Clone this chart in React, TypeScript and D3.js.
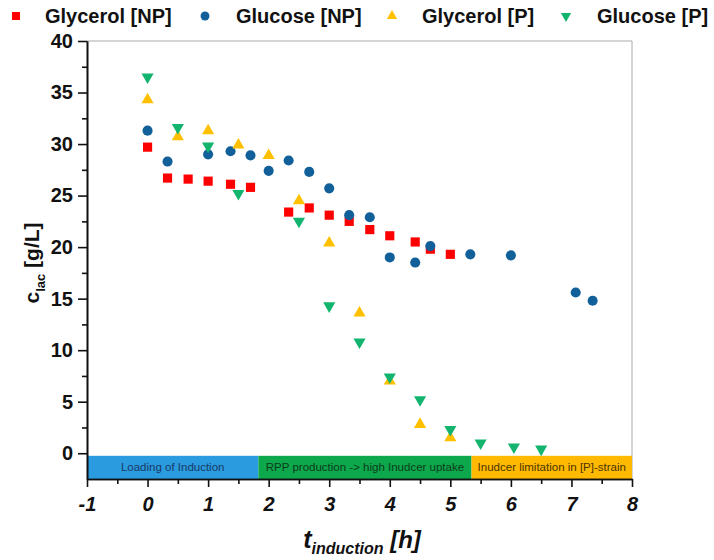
import { useRef, useEffect } from 'react';
import * as d3 from 'd3';

// Glycerol [NP]
const glyNpX = [0, 0.33, 0.67, 1.0, 1.37, 1.7, 2.33, 2.67, 3.0, 3.33, 3.67, 4.0, 4.42, 4.67, 5.0];
const glyNpY = [29.7, 26.7, 26.6, 26.4, 26.1, 25.8, 23.4, 23.8, 23.1, 22.5, 21.7, 21.1, 20.5, 19.8, 19.3];
// Glucose [NP]
const gluNpX = [0, 0.33, 1.0, 1.37, 1.7, 2.0, 2.33, 2.67, 3.0, 3.33, 3.67, 4.0, 4.42, 4.67, 5.33, 6.0, 7.07, 7.35];
const gluNpY = [31.3, 28.3, 29.0, 29.3, 28.9, 27.4, 28.4, 27.3, 25.7, 23.1, 22.9, 19.0, 18.5, 20.1, 19.3, 19.2, 15.6, 14.8];
// Glycerol [P]
const glyPX = [0, 0.5, 1.0, 1.5, 2.0, 2.5, 3.0, 3.5, 4.0, 4.5, 5.0];
const glyPY = [34.3, 30.7, 31.3, 29.9, 28.9, 24.5, 20.4, 13.6, 7.0, 2.8, 1.5];
// Glucose [P]
const gluPX = [0, 0.5, 1.0, 1.5, 2.5, 3.0, 3.5, 4.0, 4.5, 5.0, 5.5, 6.05, 6.5];
const gluPY = [36.5, 31.6, 29.8, 25.2, 22.5, 14.3, 10.8, 7.4, 5.2, 2.3, 1.0, 0.6, 0.4];

const seriesNames = ['Glycerol [NP]', 'Glucose [NP]', 'Glycerol [P]', 'Glucose [P]'];
const seriesColors = ['#ff0000', '#12609a', '#ffc000', '#13b46e'];

// induction phases shown as coloured bands under y = 0
const phaseNames = ['Loading of Induction', 'RPP production -> high Inudcer uptake', 'Inudcer limitation in [P]-strain'];
const phaseStart = [-1, 1.83, 5.35];
const phaseEnd = [1.83, 5.35, 8];
const phaseColors = ['#2b9be0', '#0ea84c', '#ffb900'];
const phaseTextColors = ['#173a66', '#0b3b1b', '#4a3300'];

const xTicks = [-1, 0, 1, 2, 3, 4, 5, 6, 7, 8];
const xMinor = [-0.5, 0.5, 1.5, 2.5, 3.5, 4.5, 5.5, 6.5, 7.5];
const yTicks = [0, 5, 10, 15, 20, 25, 30, 35, 40];
const yMinor = [2.5, 7.5, 12.5, 17.5, 22.5, 27.5, 32.5, 37.5];

const W = 714;
const H = 560;
const FONT = 'Liberation Sans, Arial, Helvetica, sans-serif';

const x = d3.scaleLinear().domain([-1, 8]).range([87, 632]);
const y = d3.scaleLinear().domain([-2.5, 40]).range([479, 41]);

const symbols = [
  d3.symbol().type(d3.symbolSquare).size(84)(),
  d3.symbol().type(d3.symbolCircle).size(80)(),
  d3.symbol().type(d3.symbolTriangle).size(64)(),
  d3.symbol().type(d3.symbolTriangle).size(64)(),
];
const legendSymbols = [
  d3.symbol().type(d3.symbolSquare).size(64)(),
  d3.symbol().type(d3.symbolCircle).size(62)(),
  d3.symbol().type(d3.symbolTriangle).size(46)(),
  d3.symbol().type(d3.symbolTriangle).size(46)(),
];
const legendMarkX = [16, 205, 392, 566];
const legendTextX = [45, 236, 422, 597];

const App = () => {
  const xRef = useRef<SVGGElement>(null);
  const xMinorRef = useRef<SVGGElement>(null);
  const yRef = useRef<SVGGElement>(null);
  const yMinorRef = useRef<SVGGElement>(null);

  useEffect(() => {
    const xAxis = d3.axisBottom(x).tickValues(xTicks).tickSize(8).tickSizeOuter(0).tickPadding(10)
      .tickFormat((d) => String(d));
    d3.select(xRef.current).call(xAxis);
    d3.select(xMinorRef.current).call(d3.axisBottom(x).tickValues(xMinor).tickSize(5).tickSizeOuter(0).tickFormat(() => ''));

    const yAxis = d3.axisLeft(y).tickValues(yTicks).tickSize(9).tickSizeOuter(0).tickPadding(5)
      .tickFormat((d) => String(d));
    d3.select(yRef.current).call(yAxis);
    d3.select(yMinorRef.current).call(d3.axisLeft(y).tickValues(yMinor).tickSize(5).tickSizeOuter(0).tickFormat(() => ''));

    [xRef, xMinorRef, yRef, yMinorRef].forEach((r) => {
      const g = d3.select(r.current);
      g.selectAll('path.domain').attr('stroke', '#111').attr('stroke-width', 1.6);
      g.selectAll('line').attr('stroke', '#111').attr('stroke-width', 1.6);
      g.selectAll('text')
        .attr('font-family', FONT)
        .attr('font-size', 20)
        .attr('font-weight', 'bold')
        .attr('fill', '#111');
    });
    d3.select(xRef.current).selectAll('text').attr('font-style', 'italic');
  }, []);

  const series = [
    { xs: glyNpX, ys: glyNpY },
    { xs: gluNpX, ys: gluNpY },
    { xs: glyPX, ys: glyPY },
    { xs: gluPX, ys: gluPY },
  ];

  return (
    <svg width={W} height={H} style={{ position: 'absolute', left: 0, top: 0, background: '#fff' }}>
      {/* legend */}
      {seriesNames.map((name, i) => (
        <g key={name}>
          <path
            d={legendSymbols[i]}
            transform={`translate(${legendMarkX[i]},16)${i === 3 ? ' rotate(180)' : ''}`}
            fill={seriesColors[i]}
          />
          <text x={legendTextX[i]} y={23} fontFamily={FONT} fontSize={20} fontWeight="bold" fill="#111">
            {name}
          </text>
        </g>
      ))}

      {/* frame */}
      <line x1={x(-1)} x2={x(8)} y1={y(40)} y2={y(40)} stroke="#aaa" strokeWidth={1} />
      <line x1={x(8)} x2={x(8)} y1={y(40)} y2={y(-2.5)} stroke="#aaa" strokeWidth={1} />

      {/* phase bands */}
      {phaseNames.map((p, i) => (
        <g key={p}>
          <rect
            x={x(phaseStart[i])}
            y={y(-0.25)}
            width={x(phaseEnd[i]) - x(phaseStart[i])}
            height={y(-2.5) - y(-0.25)}
            fill={phaseColors[i]}
          />
          <text
            x={(x(phaseStart[i]) + x(phaseEnd[i])) / 2}
            y={(y(-0.25) + y(-2.5)) / 2 + 4}
            textAnchor="middle"
            fontFamily={FONT}
            fontSize={11.5}
            fill={phaseTextColors[i]}
          >
            {p}
          </text>
        </g>
      ))}

      {/* points */}
      {series.map((s, i) => (
        <g key={seriesNames[i]} fill={seriesColors[i]}>
          {s.xs.map((xv, j) => (
            <path
              key={j}
              d={symbols[i]}
              transform={`translate(${x(xv)},${y(s.ys[j])})${i === 3 ? ' rotate(180)' : ''}`}
            />
          ))}
        </g>
      ))}

      <g ref={xMinorRef} transform={`translate(0,${y(-2.5)})`} />
      <g ref={xRef} transform={`translate(0,${y(-2.5)})`} />
      <g ref={yMinorRef} transform={`translate(${x(-1)},0)`} />
      <g ref={yRef} transform={`translate(${x(-1)},0)`} />

      {/* axis titles */}
      <text transform="translate(39,263) rotate(-90)" textAnchor="middle" fontFamily={FONT} fontWeight="bold" fill="#111">
        <tspan fontSize={21}>c</tspan>
        <tspan fontSize={13} dy={6}>lac</tspan>
        <tspan fontSize={21} dy={-6}> [g/L]</tspan>
      </text>
      <text x={362} y={548} textAnchor="middle" fontFamily={FONT} fontWeight="bold" fontStyle="italic" fill="#111">
        <tspan fontSize={25}>t</tspan>
        <tspan fontSize={16} dy={6}>induction</tspan>
        <tspan fontSize={24} dy={-6}> [h]</tspan>
      </text>
    </svg>
  );
};

export default App;
